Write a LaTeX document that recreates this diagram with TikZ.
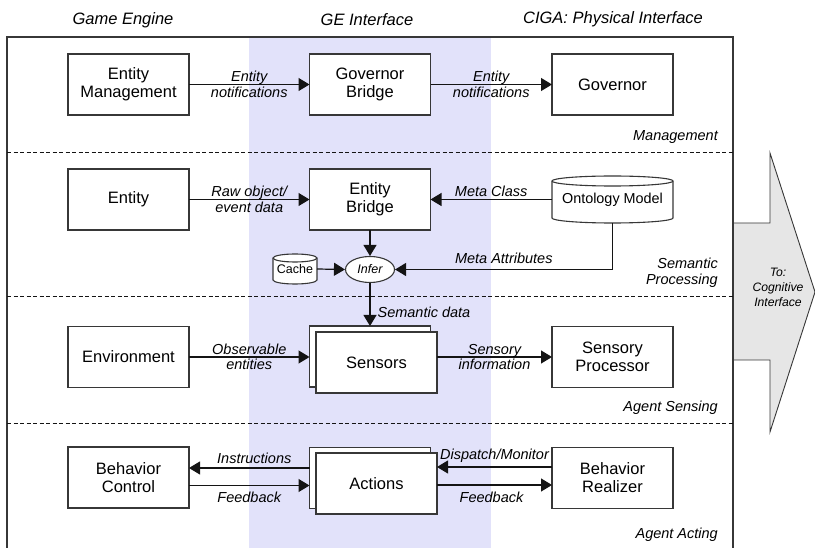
\documentclass[tikz,border=0pt]{standalone}
\usepackage{fontspec}
\setmainfont{Liberation Sans}
\usetikzlibrary{arrows.meta,shapes.geometric}
\pgfdeclarelayer{under}
\pgfsetlayers{under,main}

\definecolor{lane}{RGB}{226,226,250}
\definecolor{pointer}{RGB}{230,230,230}
\definecolor{ink}{RGB}{20,20,20}
\definecolor{rim}{RGB}{55,55,55}

\tikzset{
  box/.style={draw=rim, line width=1.1pt, fill=white, align=center, inner sep=0pt,
    outer sep=0pt, minimum width=121pt, minimum height=61pt,
    font=\fontsize{16.5}{18}\selectfont},
  conn/.style={draw=ink, line width=1.2pt, -{Triangle[length=11pt,width=13pt]}},
  lbl/.style={font=\fontsize{14.5}{15.5}\selectfont\itshape, align=center, inner sep=0pt},
  sect/.style={font=\fontsize{14.5}{16}\selectfont\itshape, align=right, inner sep=0pt, anchor=east},
  head/.style={font=\fontsize{16.5}{18}\selectfont\itshape, inner sep=0pt},
  drumtext/.style={inner sep=0pt, outer sep=0pt},
  drum/.style={draw=rim, line width=1.1pt, fill=white},
  divider/.style={draw=ink, line width=0.9pt, dash pattern=on 4pt off 2.5pt},
}

% cylinder outline around a named node: #1 node, #2 half width, #3 cap radius
\newcommand\drumshape[3]{%
  \path[drum] ([yshift=-#3]#1.north west) -- ([yshift=#3]#1.south west)
     arc[start angle=180, end angle=360, x radius=#2, y radius=#3]
     -- ([yshift=-#3]#1.north east)
     arc[start angle=0, end angle=180, x radius=#2, y radius=#3] -- cycle;
  \draw[drum, fill=none] ([yshift=-#3]#1.north east)
     arc[start angle=0, end angle=-180, x radius=#2, y radius=#3];
}

\begin{document}
\begin{tikzpicture}[x=1pt,y=-1pt]
\useasboundingbox (0,0) rectangle (815,548);

% interface lane
\begin{pgfonlayer}{under}
  \fill[lane] (249,37) rectangle (491,548);
\end{pgfonlayer}

% outgoing arrow to the cognitive interface
\draw[draw=rim, line width=0.9pt, fill=pointer]
  (733,223) -- (770,223) -- (770,153) -- (815,292) -- (770,432) -- (770,360) -- (733,360) -- cycle;
\node[lbl, font=\fontsize{12.2}{15}\selectfont\itshape] (cogn) at (778,287) {To:\\Cognitive\\Interface};

% frame and layer dividers
\draw[draw=rim, line width=1.2pt] (7,548) -- (7,37) -- (733,37) -- (733,548);
\draw[divider] (7,152) -- (733,152);
\draw[divider] (7,296) -- (733,296);
\draw[divider] (7,423) -- (733,423);

% column headings
\node[head] (hge) at (123,20) {Game Engine};
\node[head] (hgei) at (367,20) {GE Interface};
\node[head] (hciga) at (613,19) {CIGA: Physical Interface};

% layer names
\node[sect] (smgmt) at (718,137) {Management};
\node[sect] (ssem) at (718,273) {Semantic\\Processing};
\node[sect] (ssens) at (718,408) {Agent Sensing};
\node[sect] (sact) at (718,535) {Agent Acting};

% management
\node[box] (em) at (128.5,84.5) {Entity\\Management};
\node[box] (gb) at (370,84.5) {Governor\\Bridge};
\node[box] (gov) at (612.5,84.5) {Governor};
\draw[conn] (em.east) -- (gb.west) node[lbl, midway] {Entity\\notifications};
\draw[conn] (gb.east) -- (gov.west) node[lbl, midway] {Entity\\notifications};

% semantic processing
\node[box] (ent) at (128.5,199.5) {Entity};
\node[box] (eb) at (370,199.5) {Entity\\Bridge};
\node[drumtext, minimum width=121pt, minimum height=47pt,
  font=\fontsize{14.4}{16}\selectfont] (onto) at (612.5,199.5) {Ontology Model};
\node[drumtext, minimum width=44pt, minimum height=30pt,
  font=\fontsize{12.5}{14}\selectfont] (cache) at (295,269) {Cache};
\begin{pgfonlayer}{under}
  \drumshape{onto}{60.5pt}{5pt}
  \drumshape{cache}{22pt}{4pt}
\end{pgfonlayer}
\node[ellipse, draw=rim, line width=1.1pt, fill=white, minimum width=49pt, minimum height=26pt,
  inner sep=0pt, font=\fontsize{12.5}{14}\selectfont\itshape] (infer) at (370,269.5) {Infer};

\draw[conn] (ent.east) -- (eb.west) node[lbl, midway] {Raw object/\\event data};
\draw[conn] (onto.west) -- (eb.east) node[lbl, midway, above=2pt] {Meta Class};
\draw[conn] (eb.south) -- (infer.north);
\draw[conn] (cache.east) -- (infer.west);
\draw[conn] (onto.south) |- (infer.east) node[lbl, pos=0.75, above=5pt] {Meta Attributes};

% agent sensing
\node[box] (env) at (128.5,357) {Environment};
\node[box] (sensback) at (370,356.5) {};
\node[box] (sensors) at (376.5,362.5) {Sensors};
\node[box] (sp) at (612.5,357) {Sensory\\Processor};
\draw[conn] (infer.south) -- (sensback.north)
  node[lbl, pos=0.67, anchor=west, xshift=7pt] {Semantic data};
\draw[conn] (env.east) -- (env.east -| sensback.west) node[lbl, midway] {Observable\\entities};
\draw[conn] (sp.west -| sensors.east) -- (sp.west) node[lbl, midway] {Sensory\\information};

% agent acting
\node[box] (bc) at (128.5,477.5) {Behavior\\Control};
\node[box] (actback) at (370,478) {};
\node[box] (actions) at (376.5,483.5) {Actions};
\node[box] (br) at (612.5,478) {Behavior\\Realizer};
\draw[conn] ([yshift=10pt]actback.west) -- ([yshift=10pt]actback.west -| bc.east)
  node[lbl, midway, above=4pt, xshift=5pt] {Instructions};
\draw[conn] ([yshift=-8pt]bc.east) -- ([yshift=-8pt]bc.east -| actback.west)
  node[lbl, midway, below=6pt] {Feedback};
\draw[conn] ([yshift=11pt]br.west) -- ([yshift=11pt]br.west -| actions.east)
  node[lbl, midway, above=4pt] {Dispatch/Monitor};
\draw[conn] ([yshift=-7pt]br.west -| actions.east) -- ([yshift=-7pt]br.west)
  node[lbl, midway, below=6pt, xshift=-3pt] {Feedback};
\end{tikzpicture}
\end{document}
